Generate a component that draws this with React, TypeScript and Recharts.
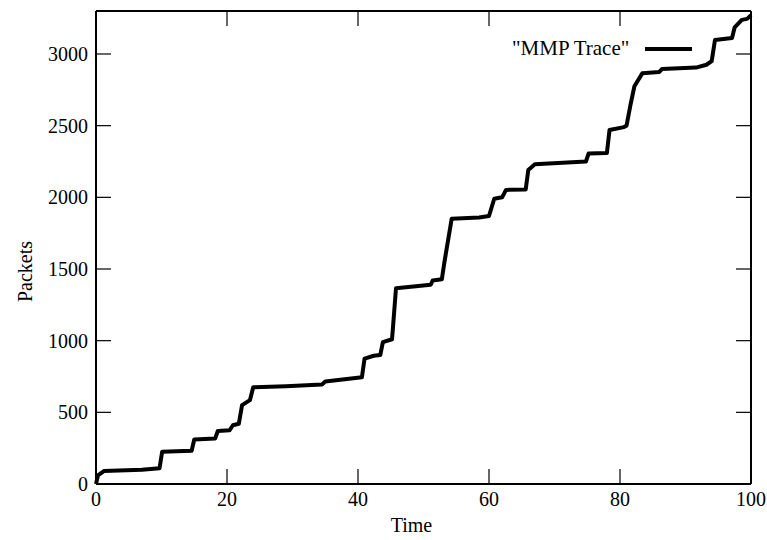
import { LineChart, Line, XAxis, YAxis } from 'recharts'

// trace, corners of each step
const timeValues = [
  0, 0.3, 1.2, 7, 9.7, 10.1, 14.6, 15.0, 18.2, 18.6, 20.4, 20.9, 21.8, 22.3, 23.5, 24.0,
  29, 34.5, 35.0, 40.6, 41.0, 42.4, 43.4, 43.8, 45.2, 45.8, 51.1, 51.4, 52.8, 53.2, 54.3,
  58.5, 60.0, 60.8, 62.0, 62.6, 65.6, 66.0, 67.0, 74.8, 75.2, 78.0, 78.4, 80.6, 81.0, 81.6,
  82.2, 83.4, 86.0, 86.4, 91.6, 93.2, 94.0, 94.5, 97.1, 97.5, 98.6, 99.4, 100,
]
const packetValues = [
  0, 60, 90, 100, 110, 225, 232, 310, 318, 370, 375, 410, 420, 550, 585, 675,
  682, 695, 715, 745, 875, 895, 900, 990, 1010, 1365, 1390, 1420, 1428, 1550, 1850,
  1860, 1870, 1990, 2000, 2052, 2055, 2190, 2230, 2250, 2305, 2310, 2470, 2490, 2500, 2645,
  2775, 2865, 2875, 2895, 2905, 2925, 2950, 3098, 3112, 3185, 3238, 3245, 3270,
]
const xTicks = [0, 20, 40, 60, 80, 100]
const yTicks = [0, 500, 1000, 1500, 2000, 2500, 3000]
const seriesName = '"MMP Trace"'

const data = timeValues.map((t, i) => ({ time: t, packets: packetValues[i] }))

const FONT = '"Liberation Serif", "DejaVu Serif", serif'
const TICK_LEN = 15

// gnuplot style: ticks point into the plot
function LeftTick(props: any) {
  const { x, y, payload } = props
  return (
    <g>
      <line x1={x + 8} x2={x + 8 + TICK_LEN} y1={y} y2={y} stroke="#000" strokeWidth={1.2} />
      <text x={x} y={y} dy={7} textAnchor="end" fontFamily={FONT} fontSize={20} fill="#000">
        {payload.value}
      </text>
    </g>
  )
}

function BottomTick(props: any) {
  const { x, y, payload } = props
  return (
    <g>
      <line x1={x} x2={x} y1={y - 6} y2={y - 6 - TICK_LEN} stroke="#000" strokeWidth={1.2} />
      <text x={x} y={y} dy={16} textAnchor="middle" fontFamily={FONT} fontSize={20} fill="#000">
        {payload.value}
      </text>
    </g>
  )
}

function RightTick(props: any) {
  const { x, y } = props
  return <line x1={x} x2={x - TICK_LEN} y1={y} y2={y} stroke="#000" strokeWidth={1.2} />
}

function TopTick(props: any) {
  const { x, y } = props
  return <line x1={x} x2={x} y1={y} y2={y + TICK_LEN} stroke="#000" strokeWidth={1.2} />
}

function TraceLegend() {
  return (
    <div
      style={{
        position: 'absolute',
        top: 36,
        left: 512,
        display: 'flex',
        alignItems: 'center',
        fontFamily: FONT,
        fontSize: 21,
        color: '#000',
      }}
    >
      <span>{seriesName}</span>
      <svg width={64} height={10}>
        <line x1={16} x2={63} y1={5} y2={5} stroke="#000" strokeWidth={4} />
      </svg>
    </div>
  )
}

export default function App() {
  return (
    <div style={{ position: 'absolute', left: 0, top: 0, width: 767, height: 540, background: '#fff' }}>
      <LineChart width={767} height={540} data={data} margin={{ top: 10, right: 15, bottom: 0, left: 0 }}>
        <XAxis
          dataKey="time"
          type="number"
          domain={[0, 100]}
          ticks={xTicks}
          height={56}
          tickSize={0}
          tickMargin={6}
          tickLine={false}
          axisLine={{ stroke: '#000', strokeWidth: 2 }}
          tick={<BottomTick />}
          label={({ viewBox }: any) => (
            <text
              x={viewBox.x + viewBox.width / 2 - 12}
              y={viewBox.y + 48}
              textAnchor="middle"
              fontFamily={FONT}
              fontSize={20}
              fill="#000"
            >
              Time
            </text>
          )}
        />
        <XAxis
          xAxisId="top"
          dataKey="time"
          orientation="top"
          type="number"
          domain={[0, 100]}
          ticks={xTicks}
          height={1}
          tickSize={0}
          tickMargin={0}
          tickLine={false}
          axisLine={{ stroke: '#000', strokeWidth: 2 }}
          tick={<TopTick />}
        />
        <YAxis
          type="number"
          domain={[0, 3300]}
          ticks={yTicks}
          width={96}
          tickSize={0}
          tickMargin={8}
          tickLine={false}
          axisLine={{ stroke: '#000', strokeWidth: 2 }}
          tick={<LeftTick />}
          label={({ viewBox }: any) => {
            const cx = viewBox.x + 25
            const cy = viewBox.y + viewBox.height / 2 + 24
            return (
              <text
                x={cx}
                y={cy}
                transform={`rotate(-90, ${cx}, ${cy})`}
                textAnchor="middle"
                dominantBaseline="central"
                fontFamily={FONT}
                fontSize={20}
                fill="#000"
              >
                Packets
              </text>
            )
          }}
        />
        <YAxis
          yAxisId="right"
          orientation="right"
          type="number"
          domain={[0, 3300]}
          ticks={yTicks}
          width={1}
          tickSize={0}
          tickMargin={0}
          tickLine={false}
          axisLine={{ stroke: '#000', strokeWidth: 2 }}
          tick={<RightTick />}
        />
        {/* hidden twin so the mirrored top/right axes get drawn */}
        <Line
          xAxisId="top"
          yAxisId="right"
          dataKey="packets"
          stroke="none"
          dot={false}
          activeDot={false}
          isAnimationActive={false}
        />
        <Line
          dataKey="packets"
          name={seriesName}
          type="linear"
          stroke="#000"
          strokeWidth={4}
          dot={false}
          strokeLinejoin="round"
          isAnimationActive={false}
        />
      </LineChart>
      <TraceLegend />
    </div>
  )
}
